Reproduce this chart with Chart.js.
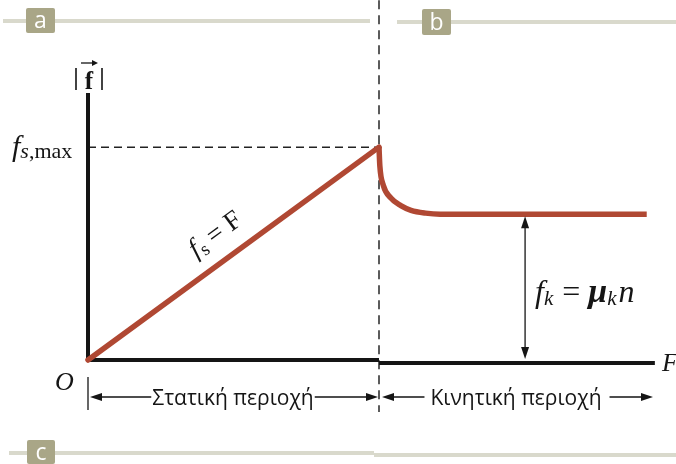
<!DOCTYPE html>
<html>
<head>
<meta charset="utf-8">
<script src="https://cdn.jsdelivr.net/npm/chart.js@4/dist/chart.umd.min.js"></script>
<style>
  html, body { margin: 0; padding: 0; background: #fff; }
  #wrap { width: 676px; height: 464px; }
</style>
</head>
<body>
<div id="wrap"><canvas id="chart" width="676" height="464"></canvas></div>
<script>
// applied force F (x) and friction |f| (y), arbitrary units
const staticF = [0, 10];
const staticFriction = [0, 10];
const kineticF = [10, 10.03, 10.15, 10.4, 10.75, 11.1, 11.6, 12.1, 19.2];
const kineticFriction = [10, 9.1, 8.2, 7.62, 7.25, 7.03, 6.9, 6.85, 6.85];
const fsMax = 10;
const fk = 6.85;
const yAxisTop = 12.54;
const xAxisEnd = 19.48;
const fkArrowAt = 15.02;
const regionLabels = ['Στατική περιοχή', 'Κινητική περιοχή'];

const red = '#b04833';
const ink = '#151515';

const pts = (xs, ys) => xs.map((v, i) => ({ x: v, y: ys[i] }));

// mixed font text runs: [{t, font, dy}]
function runs(ctx, x, y, parts) {
    let cx = x;
    parts.forEach(p => {
        ctx.font = p.font;
        ctx.fillText(p.t, cx, y + (p.dy || 0));
        cx += ctx.measureText(p.t).width + (p.gap || 0);
    });
}

function head(ctx, x, y, dir) {
    ctx.beginPath();
    ctx.moveTo(x, y);
    ctx.lineTo(x - dir * 12, y - 4);
    ctx.lineTo(x - dir * 12, y + 4);
    ctx.closePath();
    ctx.fill();
}
function vhead(ctx, x, y, dir) {
    ctx.beginPath();
    ctx.moveTo(x, y);
    ctx.lineTo(x - 4, y - dir * 12);
    ctx.lineTo(x + 4, y - dir * 12);
    ctx.closePath();
    ctx.fill();
}

const deco = {
    id: 'deco',
    beforeDraw(chart) {
        const ctx = chart.ctx;
        ctx.save();
        ctx.fillStyle = '#fff';
        ctx.fillRect(0, 0, chart.width, chart.height);
        // section bars
        ctx.strokeStyle = '#d9d9cc';
        ctx.lineWidth = 4;
        [[3, 21, 370, 21], [397, 22, 676, 22], [9, 453, 374, 453], [374, 455, 676, 455]].forEach(l => {
            ctx.beginPath(); ctx.moveTo(l[0], l[1]); ctx.lineTo(l[2], l[3]); ctx.stroke();
        });
        [[26, 8, 29, 25, 'a'], [422, 9, 29, 26, 'b'], [27, 440, 28, 24, 'c']].forEach(b => {
            ctx.fillStyle = '#a9a687';
            ctx.beginPath(); ctx.roundRect(b[0], b[1], b[2], b[3], 2); ctx.fill();
            ctx.fillStyle = '#fff';
            ctx.font = '23px "Open Sans"';
            ctx.textAlign = 'center';
            ctx.textBaseline = 'middle';
            ctx.fillText(b[4], b[0] + b[2] / 2, b[1] + b[3] / 2 + 1);
        });
        ctx.restore();
    },
    afterDatasetsDraw(chart) {
        const ctx = chart.ctx;
        const xs = chart.scales.x, ys = chart.scales.y;
        const px = v => xs.getPixelForValue(v), py = v => ys.getPixelForValue(v);
        ctx.save();
        ctx.fillStyle = ink;
        ctx.strokeStyle = ink;
        ctx.textBaseline = 'alphabetic';
        ctx.textAlign = 'left';

        // |f| label with vector arrow
        ctx.lineWidth = 1.6;
        ctx.beginPath();
        ctx.moveTo(76, 68); ctx.lineTo(76, 90);
        ctx.moveTo(102, 68); ctx.lineTo(102, 90);
        ctx.stroke();
        ctx.font = 'bold 25px "Liberation Serif"';
        ctx.textAlign = 'center';
        ctx.fillText('f', 89, 89);
        ctx.lineWidth = 1.3;
        ctx.beginPath(); ctx.moveTo(81, 63); ctx.lineTo(96, 63); ctx.stroke();
        ctx.beginPath(); ctx.moveTo(98, 63); ctx.lineTo(92, 60); ctx.lineTo(92, 66); ctx.closePath(); ctx.fill();
        ctx.textAlign = 'left';

        // f_s,max
        runs(ctx, 12, 156, [
            { t: 'f', font: 'italic 30px "Liberation Serif"', gap: 0 },
            { t: 's', font: 'italic 22px "Liberation Serif"', dy: 2 },
            { t: ',max', font: '22px "Liberation Serif"', dy: 2 }
        ]);

        // O and F
        ctx.font = 'italic 26px "Liberation Serif"';
        ctx.fillText('O', 55, 390);
        ctx.fillText('F', 662, 371);

        // f_s = F along the static line
        const ang = Math.atan2(py(fsMax) - py(0), px(fsMax) - px(0));
        ctx.save();
        ctx.translate(196, 258);
        ctx.rotate(ang);
        runs(ctx, 0, 0, [
            { t: 'f', font: 'italic 27px "Liberation Serif"', gap: 1 },
            { t: 's', font: '19px "Liberation Serif"', dy: 4, gap: 6 },
            { t: '=', font: '27px "Liberation Serif"', gap: 7 },
            { t: 'F', font: '27px "Liberation Serif"' }
        ]);
        ctx.restore();

        // f_k = mu_k n with double arrow
        const ax = px(fkArrowAt), top = py(fk) + 2, bot = py(0) - 1;
        ctx.lineWidth = 1.3;
        ctx.beginPath(); ctx.moveTo(ax, top + 10); ctx.lineTo(ax, bot - 10); ctx.stroke();
        vhead(ctx, ax, top, -1);
        vhead(ctx, ax, bot, 1);
        runs(ctx, 535, 302, [
            { t: 'f', font: 'italic 32px "Liberation Serif"', gap: 0 },
            { t: 'k', font: 'italic 21px "Liberation Serif"', dy: 3, gap: 9 },
            { t: '=', font: '32px "Liberation Serif"', gap: 8 },
            { t: 'μ', font: 'bold italic 34px "Liberation Serif"' },
            { t: 'k', font: 'italic 21px "Liberation Serif"', dy: 3, gap: 2 },
            { t: 'n', font: 'italic 32px "Liberation Serif"' }
        ]);

        // region brackets
        const yb = 397;
        ctx.lineWidth = 1.3;
        ctx.beginPath(); ctx.moveTo(px(0), 377); ctx.lineTo(px(0), 410); ctx.stroke();
        ctx.font = '21px "Open Sans"';
        const w1 = ctx.measureText(regionLabels[0]).width;
        const w2 = ctx.measureText(regionLabels[1]).width;
        const c1 = (148 + 318) / 2, c2 = (428 + 604) / 2;
        ctx.textAlign = 'center';
        ctx.fillText(regionLabels[0], c1, 405);
        ctx.fillText(regionLabels[1], c2, 405);
        const xm = px(fsMax);
        ctx.beginPath();
        ctx.moveTo(px(0) + 12, yb); ctx.lineTo(c1 - w1 / 2 - 1, yb);
        ctx.moveTo(c1 + w1 / 2 + 1, yb); ctx.lineTo(xm - 10, yb);
        ctx.moveTo(xm + 14, yb); ctx.lineTo(c2 - w2 / 2 - 6, yb);
        ctx.moveTo(c2 + w2 / 2 + 8, yb); ctx.lineTo(642, yb);
        ctx.stroke();
        head(ctx, px(0) + 2, yb, -1);
        head(ctx, xm - 1, yb, 1);
        head(ctx, xm + 3, yb, -1);
        head(ctx, 653, yb, 1);
        ctx.restore();
    }
};

new Chart(document.getElementById('chart'), {
    type: 'scatter',
    data: {
        datasets: [
            { data: pts(staticF, staticFriction), showLine: true, borderColor: red, borderWidth: 5.5, pointRadius: 0, borderCapStyle: 'round', clip: false },
            { data: pts(kineticF, kineticFriction), showLine: true, borderColor: red, borderWidth: 5.5, pointRadius: 0, cubicInterpolationMode: 'monotone', borderCapStyle: 'butt', borderJoinStyle: 'round', clip: false },
            { data: [{ x: 0, y: yAxisTop }, { x: 0, y: 0 }, { x: fsMax, y: 0 }], showLine: true, borderColor: ink, borderWidth: 4, pointRadius: 0, borderJoinStyle: 'miter', clip: false },
            { data: [{ x: fsMax, y: -0.14 }, { x: xAxisEnd, y: -0.14 }], showLine: true, borderColor: ink, borderWidth: 4, pointRadius: 0, clip: false },
            { data: [{ x: 0, y: fsMax }, { x: fsMax, y: fsMax }], showLine: true, borderColor: '#222', borderWidth: 1.5, borderDash: [8, 5], pointRadius: 0, clip: false },
            { data: [{ x: fsMax, y: 16.9 }, { x: fsMax, y: -2.44 }], showLine: true, borderColor: '#333', borderWidth: 1.6, borderDash: [9, 6], pointRadius: 0, clip: false }
        ]
    },
    options: {
        responsive: false,
        animation: false,
        layout: { padding: { left: 88, right: 6, top: 62, bottom: 104 } },
        scales: {
            x: { type: 'linear', min: 0, max: 20, display: false },
            y: { type: 'linear', min: 0, max: 14, display: false }
        },
        plugins: { legend: { display: false }, tooltip: { enabled: false } }
    },
    plugins: [deco]
});
</script>
</body>
</html>
